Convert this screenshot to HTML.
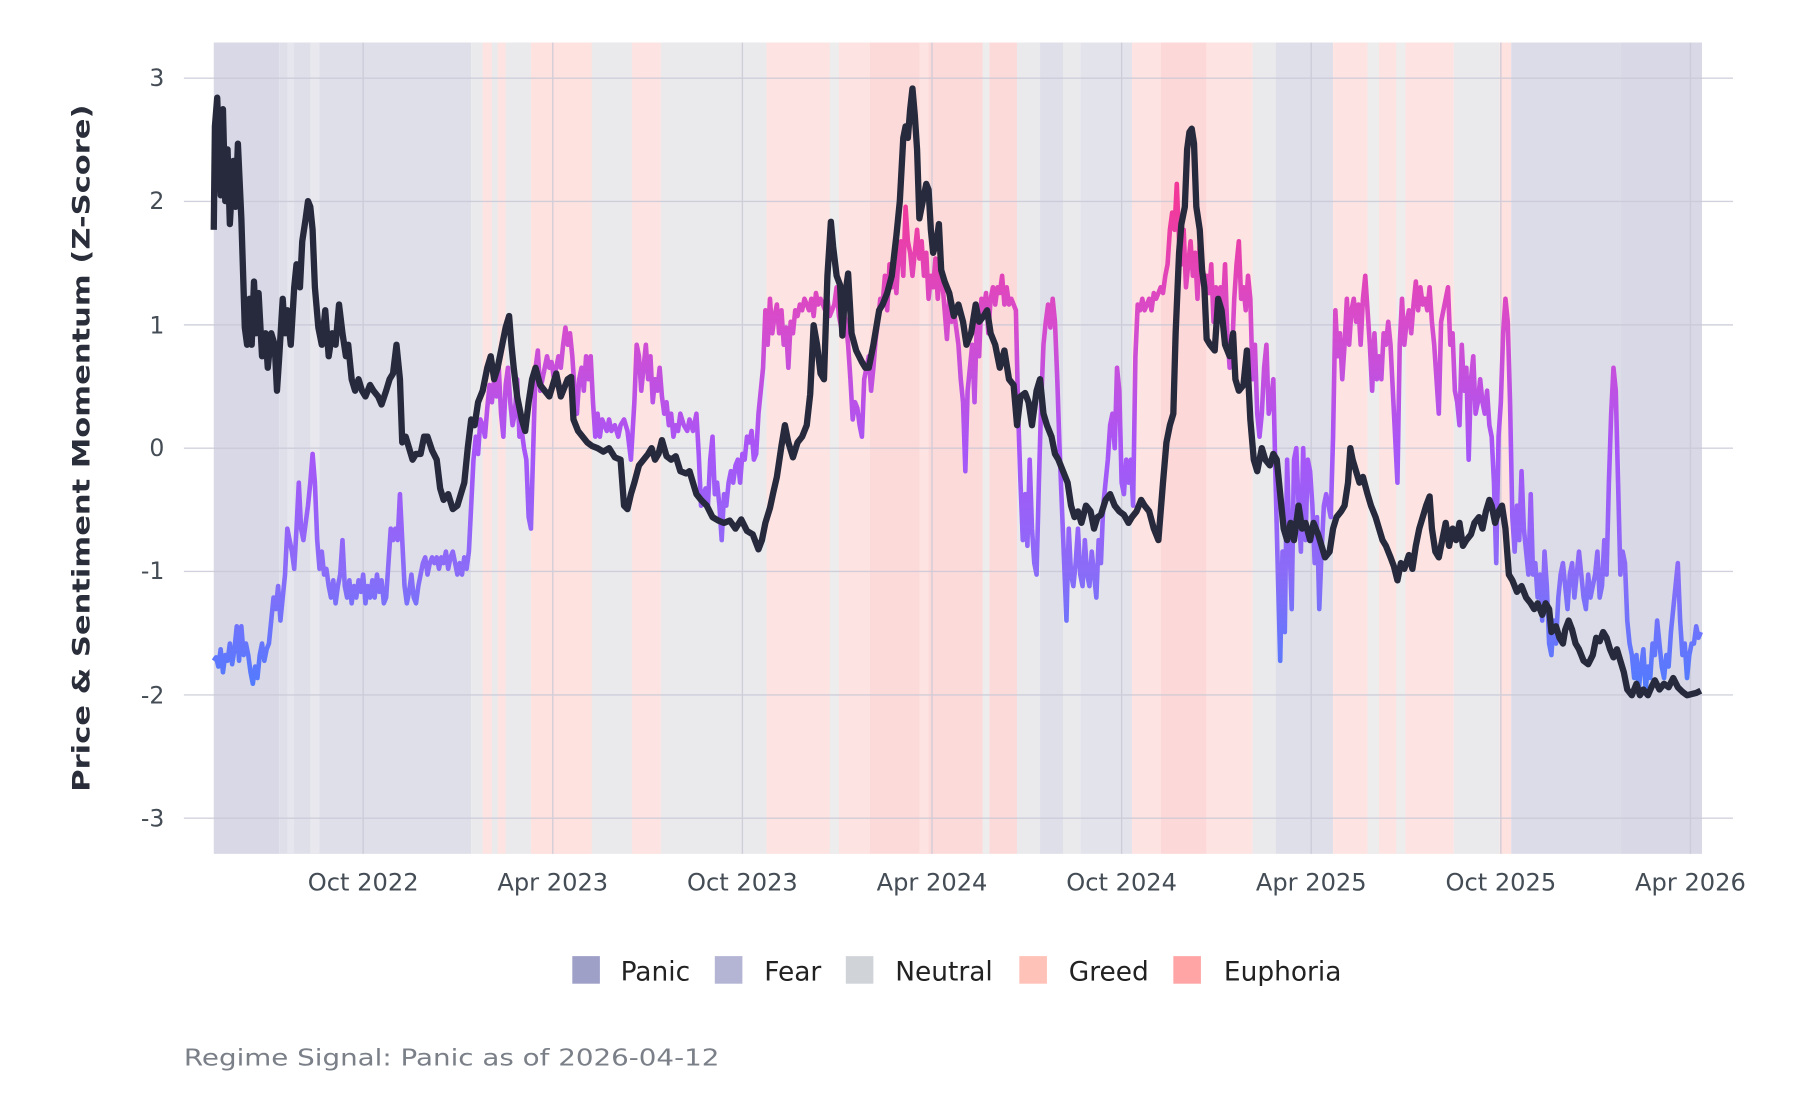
<!DOCTYPE html>
<html><head><meta charset="utf-8"><style>
html,body{margin:0;padding:0;background:#fff;width:1800px;height:1100px;overflow:hidden}
svg{display:block}
text{font-family:"DejaVu Sans","Liberation Sans",sans-serif}
</style></head><body>
<svg width="1800" height="1100" viewBox="0 0 1566.3 957.2" xmlns="http://www.w3.org/2000/svg">
<defs>
<linearGradient id="sg" gradientUnits="userSpaceOnUse" x1="0" y1="175" x2="0" y2="605">
<stop offset="0" stop-color="#f2399a"/>
<stop offset="0.25" stop-color="#d64ccd"/>
<stop offset="0.5" stop-color="#a855f7"/>
<stop offset="0.75" stop-color="#8a6cf8"/>
<stop offset="1" stop-color="#4d7cff"/>
</linearGradient>
</defs>
<rect width="1566.3" height="957.2" fill="#fff"/>
<g>
<rect x="186" y="37" width="57" height="706" fill="#d8d8e6"/>
<rect x="243" y="37" width="167" height="706" fill="#dfdfea"/>
<rect x="250" y="37" width="6" height="706" fill="#e6e6ee"/>
<rect x="270" y="37" width="8" height="706" fill="#e8e8ee"/>
<rect x="410" y="37" width="257" height="706" fill="#eaeaed"/>
<rect x="420" y="37" width="8" height="706" fill="#fde4e2"/>
<rect x="433" y="37" width="7" height="706" fill="#fde4e2"/>
<rect x="462" y="37" width="53" height="706" fill="#fde2e0"/>
<rect x="550" y="37" width="25" height="706" fill="#fde4e2"/>
<rect x="667" y="37" width="90" height="706" fill="#fde3e1"/>
<rect x="722" y="37" width="8" height="706" fill="#ededee"/>
<rect x="757" y="37" width="128" height="706" fill="#fddada"/>
<rect x="800" y="37" width="8" height="706" fill="#fde3e1"/>
<rect x="855" y="37" width="6" height="706" fill="#ededee"/>
<rect x="885" y="37" width="20" height="706" fill="#eaeaed"/>
<rect x="905" y="37" width="20" height="706" fill="#dfdfea"/>
<rect x="925" y="37" width="15" height="706" fill="#eaeaed"/>
<rect x="940" y="37" width="45" height="706" fill="#e3e3ec"/>
<rect x="985" y="37" width="25" height="706" fill="#fde3e1"/>
<rect x="1010" y="37" width="40" height="706" fill="#fdd8d8"/>
<rect x="1050" y="37" width="40" height="706" fill="#fde3e1"/>
<rect x="1090" y="37" width="20" height="706" fill="#eaeaed"/>
<rect x="1110" y="37" width="50" height="706" fill="#dfdfea"/>
<rect x="1160" y="37" width="105" height="706" fill="#fde4e2"/>
<rect x="1190" y="37" width="10" height="706" fill="#ededee"/>
<rect x="1215" y="37" width="8" height="706" fill="#ededee"/>
<rect x="1265" y="37" width="40" height="706" fill="#eaeaed"/>
<rect x="1305" y="37" width="10" height="706" fill="#fde2e0"/>
<rect x="1315" y="37" width="95" height="706" fill="#dcdce8"/>
<rect x="1410" y="37" width="71" height="706" fill="#d8d8e6"/>
</g>
<g stroke="#c8c8d6" stroke-width="1.2" opacity="0.8">
<line x1="160" y1="68" x2="1508" y2="68"/>
<line x1="160" y1="175.3" x2="1508" y2="175.3"/>
<line x1="160" y1="282.7" x2="1508" y2="282.7"/>
<line x1="160" y1="390" x2="1508" y2="390"/>
<line x1="160" y1="497.3" x2="1508" y2="497.3"/>
<line x1="160" y1="604.7" x2="1508" y2="604.7"/>
<line x1="160" y1="712" x2="1508" y2="712"/>
<line x1="316" y1="37" x2="316" y2="743"/>
<line x1="481" y1="37" x2="481" y2="743"/>
<line x1="646" y1="37" x2="646" y2="743"/>
<line x1="811" y1="37" x2="811" y2="743"/>
<line x1="976" y1="37" x2="976" y2="743"/>
<line x1="1141" y1="37" x2="1141" y2="743"/>
<line x1="1306" y1="37" x2="1306" y2="743"/>
<line x1="1471" y1="37" x2="1471" y2="743"/>
</g>
<polyline fill="none" stroke="url(#sg)" stroke-width="4" stroke-linejoin="round" points="186,575 188,572 190,580 192,565 194,585 196,570 198,575 200,560 202,578 204,565 206,545 208,575 210,545 212,570 214,560 216,570 218,585 220,595 222,580 224,590 226,570 228,560 230,575 232,565 234,560 236,540 238,520 240,530 242,510 244,540 246,520 248,500 250,460 252,470 254,480 256,495 258,460 260,420 262,460 264,470 266,455 268,440 270,420 272,395 274,420 276,470 278,495 280,480 282,500 284,495 286,510 288,520 290,505 292,525 294,510 296,500 298,470 300,510 302,520 304,505 306,525 308,510 310,520 312,505 314,515 316,500 318,525 320,510 322,520 324,505 326,520 328,500 330,515 332,505 334,525 336,520 338,490 340,460 342,470 344,460 346,470 348,430 350,470 352,510 354,525 356,515 358,500 360,520 362,525 364,510 366,500 368,490 370,485 372,500 374,490 376,485 378,490 380,485 382,495 384,485 386,490 388,480 390,495 392,485 394,480 396,490 398,500 400,490 402,500 404,485 406,495 408,480 410,440 412,400 414,380 416,395 418,365 420,370 422,380 424,355 426,335 428,350 430,330 432,345 434,320 436,360 438,380 440,335 442,320 444,350 446,370 448,360 450,330 452,380 454,375 456,390 458,400 460,450 462,460 464,390 466,320 468,305 470,340 472,330 474,320 476,310 478,320 480,315 482,330 484,320 486,310 488,320 490,300 492,285 494,300 496,290 498,310 500,340 502,360 504,330 506,320 508,340 510,310 512,330 514,310 516,350 518,380 520,360 522,380 524,365 526,370 528,375 530,365 532,375 535,370 538,380 540,370 543,365 546,375 549,400 552,350 554,300 556,310 558,340 560,320 562,300 564,330 566,310 568,350 570,330 572,340 574,320 576,345 578,360 580,350 582,370 584,360 586,380 588,370 590,375 592,360 595,370 598,375 600,365 603,375 606,360 608,395 610,440 612,430 614,425 616,440 618,400 620,380 622,430 624,420 626,440 628,470 630,430 632,440 634,420 636,410 638,420 640,405 642,400 644,420 646,395 648,400 650,380 652,385 654,375 656,400 658,395 660,360 662,340 664,320 666,270 668,300 670,260 672,290 674,275 676,265 678,290 680,270 682,300 684,285 686,320 688,280 690,290 692,270 694,275 696,265 698,270 700,260 702,265 704,270 706,260 708,275 710,255 712,265 714,260 716,265 718,270 720,260 722,275 724,270 726,265 728,250 730,275 732,285 734,270 736,280 738,300 740,330 742,365 744,350 746,355 748,370 750,380 752,330 754,320 756,310 758,340 760,320 762,295 764,280 766,260 768,265 770,240 772,270 774,230 776,250 778,235 780,255 782,220 784,210 786,240 788,180 790,210 792,220 794,240 796,220 798,200 800,225 802,210 804,240 806,220 808,260 810,240 812,250 814,225 816,260 818,235 820,245 822,270 824,295 826,260 828,280 830,270 832,285 834,300 836,330 838,350 840,410 842,340 844,320 846,300 848,350 850,280 852,310 854,260 856,270 858,255 860,290 862,260 864,250 866,265 868,250 870,255 872,240 874,265 876,250 878,265 880,260 882,265 884,270 886,360 888,420 890,470 892,430 894,475 896,400 898,460 900,490 902,500 904,420 906,350 908,300 910,280 912,265 914,285 916,260 918,280 920,330 922,390 924,440 926,490 928,540 930,460 932,500 934,510 936,490 938,460 940,500 942,510 944,470 946,500 948,510 950,480 952,500 954,520 956,470 958,490 960,440 962,420 964,400 966,370 968,360 970,390 972,320 974,340 976,420 978,430 980,400 982,420 984,400 986,440 988,310 990,265 992,270 994,260 996,270 998,265 1000,260 1002,270 1004,255 1006,260 1008,255 1010,250 1012,255 1014,240 1016,230 1018,200 1020,185 1022,200 1024,160 1026,210 1028,230 1030,200 1032,250 1034,230 1036,210 1038,240 1040,220 1042,260 1044,210 1046,230 1048,260 1050,240 1052,255 1054,230 1056,280 1058,250 1060,260 1062,250 1064,270 1066,230 1068,290 1070,320 1072,310 1074,260 1076,230 1078,210 1080,260 1082,250 1084,270 1086,240 1088,260 1090,330 1092,300 1094,360 1096,380 1098,360 1100,320 1102,300 1104,360 1106,350 1108,330 1110,420 1112,500 1114,575 1116,480 1118,550 1120,400 1122,470 1124,530 1126,400 1128,390 1130,440 1132,480 1134,390 1136,470 1138,400 1140,410 1142,440 1144,490 1146,450 1148,530 1150,480 1152,440 1154,430 1156,440 1158,450 1160,380 1162,270 1164,310 1166,290 1168,330 1170,300 1172,260 1174,300 1176,270 1178,260 1180,280 1182,265 1184,300 1186,260 1188,240 1190,270 1192,300 1194,340 1196,290 1198,330 1200,310 1202,330 1204,290 1206,300 1208,280 1210,300 1212,340 1214,380 1216,420 1218,300 1220,260 1222,300 1224,280 1226,270 1228,290 1230,265 1232,245 1234,270 1236,250 1238,265 1240,260 1242,270 1244,250 1246,280 1248,300 1250,330 1252,360 1254,280 1256,270 1258,260 1260,250 1262,300 1264,290 1266,340 1268,350 1270,370 1272,300 1274,340 1276,320 1278,400 1280,330 1282,310 1284,360 1286,350 1288,330 1290,350 1292,360 1294,340 1296,370 1298,380 1300,420 1302,490 1304,380 1306,350 1308,290 1310,260 1312,280 1314,350 1316,450 1318,480 1320,440 1322,470 1324,410 1326,460 1328,480 1330,500 1332,430 1334,500 1336,490 1338,520 1340,500 1342,540 1344,480 1346,510 1348,560 1350,570 1352,540 1354,560 1356,520 1358,500 1360,490 1362,510 1364,530 1366,500 1368,490 1370,520 1372,500 1374,480 1376,500 1378,520 1380,530 1382,500 1384,520 1386,510 1388,500 1390,480 1392,520 1394,510 1396,470 1398,500 1400,420 1402,360 1404,320 1406,340 1408,420 1410,500 1412,480 1414,490 1416,540 1418,560 1420,570 1422,590 1424,570 1426,600 1428,580 1430,565 1432,600 1434,580 1436,590 1438,560 1440,570 1442,540 1444,560 1446,580 1448,590 1450,570 1452,580 1454,550 1456,530 1458,510 1460,490 1462,540 1464,570 1466,560 1468,590 1470,570 1472,560 1474,560 1476,545 1478,555 1480,550"/>
<polyline fill="none" stroke="#272a3d" stroke-width="5.5" stroke-linejoin="round" points="186,200 187,110 189,85 192,170 194,95 196,175 198,130 200,195 203,140 205,180 207,125 210,190 213,285 215,300 217,260 219,300 221,245 223,290 225,255 228,310 231,290 233,320 236,290 239,300 241,340 243,310 246,260 248,290 250,270 253,300 256,250 258,230 261,250 263,210 266,190 268,175 270,180 272,200 274,250 277,285 280,300 283,270 286,310 289,290 292,300 295,265 298,290 301,310 303,300 306,330 309,340 312,330 315,340 318,345 322,335 325,340 329,345 332,352 336,340 339,330 342,325 345,300 348,330 350,385 353,380 356,390 359,400 362,395 366,395 369,380 372,380 376,392 380,400 383,425 386,435 390,430 394,443 398,440 401,430 404,420 407,390 410,365 413,370 416,350 420,340 424,320 427,310 430,330 433,320 436,305 440,285 443,275 445,300 447,320 450,345 454,365 457,375 460,350 463,330 466,320 470,335 474,340 478,345 481,335 484,325 488,345 490,340 494,330 497,328 499,365 503,375 507,380 511,385 515,388 520,390 525,393 530,390 535,398 540,400 543,440 546,443 549,430 552,420 556,405 560,400 564,395 567,390 570,400 573,395 576,383 580,397 584,400 588,397 592,410 597,412 600,410 603,420 606,430 610,435 615,440 620,450 625,453 630,455 635,453 640,460 645,452 650,462 655,465 660,478 663,470 666,455 670,442 673,428 676,415 680,388 683,370 686,385 690,398 694,385 698,380 702,370 705,343 708,283 711,300 714,325 717,330 720,240 723,193 725,215 728,240 731,248 733,292 735,260 738,238 741,290 745,305 750,315 753,320 756,320 760,300 765,270 768,265 772,255 776,240 780,205 783,175 786,120 788,110 790,120 792,95 794,77 796,100 798,130 800,190 803,175 806,160 808,165 810,200 812,220 815,210 817,195 819,235 822,245 826,255 830,275 834,265 838,280 841,300 845,290 849,265 852,280 856,275 859,270 862,290 866,300 870,320 874,305 878,330 882,335 885,370 888,345 892,342 895,350 898,370 902,340 905,330 908,360 911,370 915,380 918,395 921,400 925,410 929,420 932,440 935,450 938,445 941,455 945,440 949,445 952,460 955,450 958,448 962,435 966,430 970,440 974,445 978,448 982,455 985,450 989,445 993,435 996,440 1000,445 1004,460 1008,470 1012,420 1015,385 1018,370 1021,360 1023,290 1026,220 1028,195 1031,180 1033,130 1035,115 1037,112 1039,125 1041,180 1044,200 1046,235 1048,250 1050,295 1053,300 1057,305 1060,260 1063,270 1066,300 1070,310 1073,290 1075,330 1078,340 1082,335 1085,305 1088,365 1091,400 1094,410 1098,390 1101,400 1105,405 1108,395 1111,400 1114,430 1117,460 1120,470 1123,455 1126,470 1130,440 1133,460 1136,455 1140,470 1143,455 1147,465 1150,475 1153,485 1157,480 1160,460 1163,450 1167,445 1170,440 1173,420 1175,390 1177,400 1180,410 1183,420 1186,415 1190,430 1193,440 1197,450 1200,460 1203,470 1206,475 1210,485 1213,493 1216,505 1219,490 1222,495 1226,483 1229,495 1232,475 1235,460 1238,450 1241,440 1244,432 1246,460 1249,480 1252,485 1255,470 1258,455 1261,475 1264,460 1267,470 1270,455 1273,475 1276,470 1280,465 1283,455 1287,450 1290,460 1293,445 1296,435 1298,440 1301,455 1304,445 1307,440 1310,460 1313,500 1316,505 1320,515 1324,510 1328,520 1332,525 1335,530 1338,525 1342,535 1345,525 1348,530 1350,550 1354,545 1357,555 1360,560 1362,548 1365,540 1368,548 1371,560 1374,565 1378,575 1382,578 1386,570 1389,555 1392,558 1395,550 1398,555 1401,565 1404,572 1407,565 1410,575 1413,585 1416,600 1420,605 1424,595 1427,605 1430,600 1434,605 1437,598 1440,592 1444,600 1448,595 1452,598 1456,590 1460,598 1464,602 1468,605 1472,604 1476,603 1480,601"/>
<g font-size="20.5" fill="#444c55" text-anchor="end">
<text x="143" y="75">3</text><text x="143" y="182">2</text><text x="143" y="290">1</text><text x="143" y="397">0</text><text x="143" y="504">-1</text><text x="143" y="612">-2</text><text x="143" y="719">-3</text>
</g>
<g font-size="21" fill="#444c55" text-anchor="middle">
<text x="316" y="775">Oct 2022</text><text x="481" y="775">Apr 2023</text><text x="646" y="775">Oct 2023</text><text x="811" y="775">Apr 2024</text><text x="976" y="775">Oct 2024</text><text x="1141" y="775">Apr 2025</text><text x="1306" y="775">Oct 2025</text><text x="1471" y="775">Apr 2026</text>
</g>
<text transform="translate(78,390) rotate(-90)" text-anchor="middle" font-size="21" font-weight="bold" fill="#2a2e3a" textLength="598" lengthAdjust="spacingAndGlyphs">Price &amp; Sentiment Momentum (Z-Score)</text>
<g font-size="23" fill="#222">
<rect x="498" y="832" width="24" height="24" fill="#9fa0c8"/><text x="540" y="853">Panic</text>
<rect x="622" y="832" width="24" height="24" fill="#b4b4d4"/><text x="665" y="853">Fear</text>
<rect x="736" y="832" width="24" height="24" fill="#d0d4d9"/><text x="779" y="853">Neutral</text>
<rect x="887" y="832" width="24" height="24" fill="#ffc2b8"/><text x="930" y="853">Greed</text>
<rect x="1021" y="832" width="24" height="24" fill="#ffa5a5"/><text x="1065" y="853">Euphoria</text>
</g>
<text x="160" y="927" font-size="20" fill="#7a7f88" textLength="466" lengthAdjust="spacingAndGlyphs">Regime Signal: Panic as of 2026-04-12</text>
</svg>
</body></html>
